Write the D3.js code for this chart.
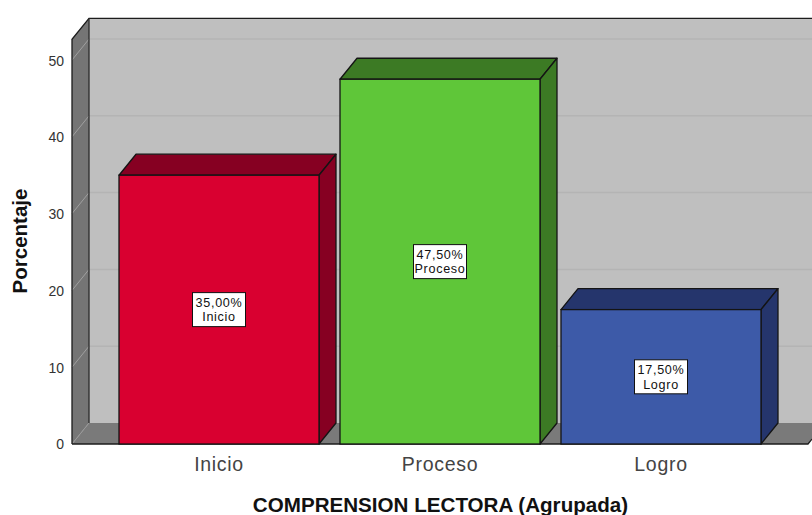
<!DOCTYPE html>
<html><head><meta charset="utf-8">
<script src="https://cdn.jsdelivr.net/npm/d3@7"></script>
<style>html,body{margin:0;padding:0;background:#fff}svg{display:block}</style>
</head><body><svg id="c" width="812" height="515"></svg>
<script>
const categories = ["Inicio","Proceso","Logro"];
const values = [35, 47.5, 17.5];
const valueLabels = ["35,00%","47,50%","17,50%"];
const frontColors = ["#d90030","#5fc639","#3d5aa8"];
const sideColors = ["#860022","#3c7a24","#25356c"];
const yTicks = [0,10,20,30,40,50];
const yTitle = "Porcentaje";
const xTitle = "COMPRENSION LECTORA (Agrupada)";

const svg = d3.select("#c");
const dx = 17, dy = 21;
const y = d3.scaleLinear().domain([0,52.7]).range([444,39.3]);
const x = d3.scaleBand().domain(categories).range([108.5,771.5]).paddingInner(21/221).paddingOuter(10.5/221);
const left = 72, right = 808, y0 = y(0), yTop = y(52.7);
const path = p => d3.line()(p)+"Z";

svg.append("rect").attr("x",left+dx).attr("y",yTop-dy).attr("width",812-left-dx).attr("height",y0-yTop)
  .attr("fill","#bfbfbf");
svg.append("path").attr("d",path([[left,yTop],[left+dx,yTop-dy],[left+dx,y0-dy],[left,y0]])).attr("fill","#757575");
svg.append("path").attr("d",path([[left,y0],[left+dx,y0-dy],[right+dx,y0-dy],[right,y0]])).attr("fill","#7a7a7a");
yTicks.forEach(t=>{
  const g = svg.append("g").attr("fill","none");
  if(t>0) g.append("line").attr("x1",left+dx).attr("x2",812).attr("y1",y(t)-dy).attr("y2",y(t)-dy)
     .attr("stroke","#b4b4b4").attr("stroke-width",1.5);
  g.append("line").attr("x1",left).attr("x2",left+dx).attr("y1",y(t)).attr("y2",y(t)-dy)
     .attr("stroke",t>0?"#a0a0a0":"#999").attr("stroke-width",1);
});
svg.append("path").attr("fill","none").attr("stroke","#1c1c1c").attr("stroke-width",1.3)
  .attr("d",`M${left},${y0}V${yTop}L${left+dx},${yTop-dy}H812`);
svg.append("path").attr("fill","none").attr("stroke","#2a2a2a").attr("stroke-width",1.3)
  .attr("d",`M${left+dx},${yTop-dy}V${y0-dy}`);
svg.append("path").attr("fill","none").attr("stroke","#1c1c1c").attr("stroke-width",1.3)
  .attr("d",`M${left},${y0}H${right}L812,${y0-dy*4/17}`);

const bars = svg.append("g").selectAll("g").data(categories).join("g");
const stroke = "#141414";
bars.each(function(c,i){
  const g = d3.select(this), x0 = x(c), x1 = x0+x.bandwidth(), t = y(values[i]);
  g.append("path").attr("d",path([[x0,t],[x0+dx,t-dy],[x1+dx,t-dy],[x1,t]]))
    .attr("fill",sideColors[i]).attr("stroke",stroke).attr("stroke-width",1.3).attr("stroke-linejoin","round");
  g.append("path").attr("d",path([[x1,t],[x1+dx,t-dy],[x1+dx,y0-dy],[x1,y0]]))
    .attr("fill",sideColors[i]).attr("stroke",stroke).attr("stroke-width",1.3).attr("stroke-linejoin","round");
  g.append("rect").attr("x",x0).attr("y",t).attr("width",x.bandwidth()).attr("height",y0-t)
    .attr("fill",frontColors[i]).attr("stroke",stroke).attr("stroke-width",1.3);
  const cx = x0+x.bandwidth()/2, cy = (t+y0)/2;
  const w = 53;
  g.append("rect").attr("x",cx-w/2).attr("y",cy-17).attr("width",w).attr("height",34)
    .attr("fill","#fff").attr("stroke","#111").attr("stroke-width",1);
  [valueLabels[i], c].forEach((s,k)=>{
    g.append("text").attr("x",cx).attr("y",cy-3+k*14.8).attr("text-anchor","middle")
      .attr("font-family","Liberation Sans").attr("font-size",12.6).attr("letter-spacing",0.7).attr("fill","#111").text(s);
  });
});

const yAxis = svg.append("g").attr("transform",`translate(${left},0.5)`)
  .call(d3.axisLeft(y).tickValues(yTicks).tickSize(0).tickPadding(8));
yAxis.select(".domain").remove();
yAxis.selectAll("text").attr("font-family","Liberation Sans").attr("font-size",14).attr("fill","#333");
const xAxis = svg.append("g").attr("transform",`translate(0,${y0})`)
  .call(d3.axisBottom(x).tickSize(0).tickPadding(13));
xAxis.select(".domain").remove();
xAxis.selectAll("text").attr("font-family","Liberation Sans").attr("font-size",19.5).attr("letter-spacing",0.7).attr("fill","#444");

svg.append("text").attr("transform","translate(26.5,241) rotate(-90)").attr("text-anchor","middle")
  .attr("font-family","Liberation Sans").attr("font-weight","bold").attr("font-size",20.5).attr("fill","#111").text(yTitle);
svg.append("text").attr("x",440.5).attr("y",512).attr("text-anchor","middle")
  .attr("font-family","Liberation Sans").attr("font-weight","bold").attr("font-size",20.6).attr("fill","#111").text(xTitle);
</script></body></html>
